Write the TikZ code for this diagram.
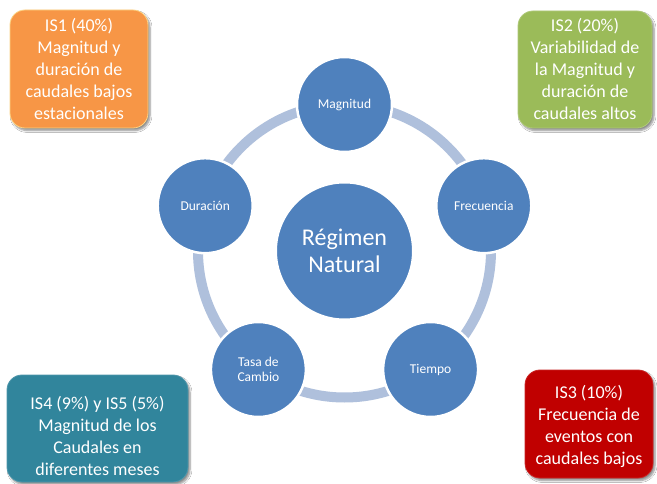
\documentclass[tikz,border=0pt]{standalone}
\usepackage{fontspec}
\setmainfont{Carlito}
\usetikzlibrary{shadows.blur}

\definecolor{circblue}{HTML}{4F81BD}
\definecolor{ringblue}{HTML}{AFC0DC}
\definecolor{isorange}{HTML}{F79646}
\definecolor{isgreen}{HTML}{9BBB59}
\definecolor{isteal}{HTML}{31859C}
\definecolor{isred}{HTML}{C00000}

\tikzset{
  ring/.style={draw=ringblue, line width=10pt},
  outer/.style={circle, fill=circblue, draw=white, line width=2.5pt,
    minimum size=95pt, inner sep=0pt, text=white, align=center,
    font=\fontsize{13.5}{15.5}\selectfont},
  hub/.style={circle, fill=circblue, draw=white, line width=2pt,
    minimum size=137pt, inner sep=0pt, text=white, align=center,
    font=\fontsize{24}{27}\selectfont},
  isbox/.style={rounded corners=15pt, inner sep=0pt, line width=0.8pt,
    blur shadow={shadow xshift=2pt, shadow yshift=-2.5pt,
      shadow blur steps=6, shadow opacity=45}},
  istext/.style={text=white, align=center, inner sep=0pt,
    font=\fontsize{18}{22}\selectfont}
}

\begin{document}
\begin{tikzpicture}[x=1pt, y=-1pt]
  \useasboundingbox[fill=white] (0,0) rectangle (657,484);

  % cycle ring behind the outer circles
  \coordinate (c) at (344.5,251);
  \draw[ring] (c) circle[radius=146.5];

  % centre and outer circles
  \node[hub] (reg) at (c) {Régimen\\Natural};
  \node[outer] (mag) at (344.5,104.5) {Magnitud};
  \node[outer] (fre) at (483.8,205.7) {Frecuencia};
  \node[outer] (tie) at (430.6,369.5) {Tiempo};
  \node[outer] (tas) at (258.4,369.5) {Tasa de\\Cambio};
  \node[outer] (dur) at (205.2,205.7) {Duración};

  % indicator boxes
  \node[isbox, fill=isorange, draw=isorange!70!yellow!60,
        minimum width=138pt, minimum height=118pt] (is1) at (79,69) {};
  \node[istext] (is1t) at (79,68.5)
    {IS1 (40\%)\\Magnitud y\\duración de\\caudales bajos\\estacionales};

  \node[isbox, fill=isgreen, draw=isgreen!80!white,
        minimum width=134pt, minimum height=117pt] (is2) at (585,69.5) {};
  \node[istext] (is2t) at (585,68.5)
    {IS2 (20\%)\\Variabilidad de\\la Magnitud y\\duración de\\caudales altos};

  \node[isbox, fill=isred, draw=isred!85!white,
        minimum width=128pt, minimum height=108pt] (is3) at (589,424) {};
  \node[istext] (is3t) at (589,426)
    {IS3 (10\%)\\Frecuencia de\\eventos con\\caudales bajos};

  \node[isbox, fill=isteal, draw=isteal!85!white,
        minimum width=181pt, minimum height=107pt] (is4) at (97.5,428.5) {};
  \node[istext] (is4t) at (97.5,435.5)
    {IS4 (9\%) y IS5 (5\%)\\Magnitud de los\\Caudales en\\diferentes meses};
\end{tikzpicture}
\end{document}
